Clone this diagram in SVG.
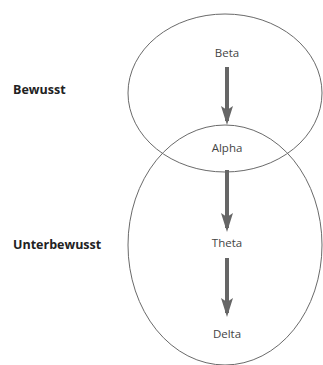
<svg xmlns="http://www.w3.org/2000/svg" width="323" height="365" viewBox="0 0 323 365">
<defs>
<style>
.ring{fill:none;stroke:#6a6a6a;stroke-width:1}
.lbl{font-family:"Open Sans","Liberation Sans",sans-serif;font-size:11.5px;fill:#444;text-anchor:middle}
.side{font-family:"Open Sans","Liberation Sans",sans-serif;font-size:12.5px;font-weight:bold;fill:#222}
.shaft{stroke:#666;stroke-width:4}
.head{fill:#666}
</style>
</defs>
<rect width="323" height="365" fill="#fff"/>
<g id="bewusst-ring"><ellipse class="ring" cx="225" cy="93" rx="97" ry="79"/></g>
<g id="unterbewusst-ring"><ellipse class="ring" cx="225" cy="245" rx="97" ry="120"/></g>
<g id="connectors">
<path class="shaft" d="M227,67 V121"/>
<path class="shaft" d="M227,170 V228"/>
<path class="shaft" d="M227,258 V313"/>
<path class="head" d="M221,106 L227,125 L233,106 L227,110 Z"/>
<path class="head" d="M221,213 L227,232 L233,213 L227,217 Z"/>
<path class="head" d="M221,298 L227,317 L233,298 L227,302 Z"/>
</g>
<g id="beta"><text class="lbl" x="227" y="57">Beta</text></g>
<g id="alpha"><text class="lbl" x="227" y="152">Alpha</text></g>
<g id="theta"><text class="lbl" x="227" y="247">Theta</text></g>
<g id="delta"><text class="lbl" x="227" y="338">Delta</text></g>
<g id="bewusst"><text class="side" x="13" y="94">Bewusst</text></g>
<g id="unterbewusst"><text class="side" x="13" y="249">Unterbewusst</text></g>
</svg>
